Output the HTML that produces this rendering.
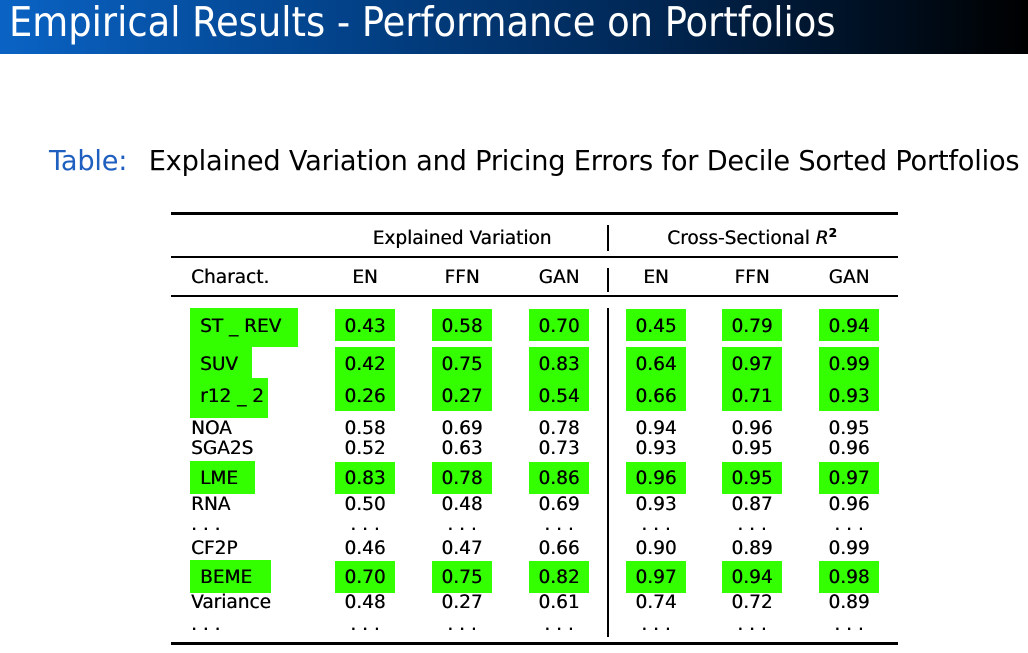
<!DOCTYPE html>
<html><head><meta charset="utf-8">
<style>
html,body{margin:0;padding:0;background:#fff;}
body{width:1028px;height:653px;position:relative;overflow:hidden;font-family:"DejaVu Sans","Liberation Sans",sans-serif;color:#000;}
#bar{position:absolute;left:0;top:0;width:1028px;height:54px;background:linear-gradient(90deg,#0a63c4 0%,#03458f 30%,#012a5a 60%,#000 100%);}
#title{position:absolute;left:9px;top:-2px;font-family:"DejaVu Sans Condensed","DejaVu Sans","Liberation Sans",sans-serif;font-weight:normal;font-size:41px;color:#fff;white-space:nowrap;}
#cap{position:absolute;left:49px;top:146px;font-size:27.2px;white-space:nowrap;font-family:"DejaVu Sans","Liberation Sans",sans-serif;letter-spacing:-0.2px;}
#cap span{color:#1f5fbf;display:inline-block;margin-right:13px;}
.rule{position:absolute;background:#000;}
.g{position:absolute;background:#33ff00;}
.t{position:absolute;font-size:18.5px;white-space:nowrap;line-height:20px;text-shadow:0.35px 0 0 #000;}
.c{transform:translateX(-50%);}
</style></head><body>
<div id="bar"><div id="title">Empirical Results - Performance on Portfolios</div></div>
<div id="cap"><span>Table:</span> Explained Variation and Pricing Errors for Decile Sorted Portfolios</div>
<div id="tbl"></div>
<script>
const labels=["ST _ REV","SUV","r12 _ 2","NOA","SGA2S","LME","RNA","...","CF2P","BEME","Variance","..."];
const enEV=["0.43","0.42","0.26","0.58","0.52","0.83","0.50","...","0.46","0.70","0.48","..."];
const ffnEV=["0.58","0.75","0.27","0.69","0.63","0.78","0.48","...","0.47","0.75","0.27","..."];
const ganEV=["0.70","0.83","0.54","0.78","0.73","0.86","0.69","...","0.66","0.82","0.61","..."];
const enR2=["0.45","0.64","0.66","0.94","0.93","0.96","0.93","...","0.90","0.97","0.74","..."];
const ffnR2=["0.79","0.97","0.71","0.96","0.95","0.95","0.87","...","0.89","0.94","0.72","..."];
const ganR2=["0.94","0.99","0.93","0.95","0.96","0.97","0.96","...","0.99","0.98","0.89","..."];
const highlighted=[true,true,true,false,false,true,false,false,false,true,false,false];

const T=document.getElementById('tbl');
const rowY=[327,365,397,429,449,479,505,525,549,578,603,625];
const colX=[365,462,559,656,752,849];
const cols=[enEV,ffnEV,ganEV,enR2,ffnR2,ganR2];
const colNames=["en-ev","ffn-ev","gan-ev","en-r2","ffn-r2","gan-r2"];
function add(cls,style,txt){const d=document.createElement('div');d.className=cls;d.style.cssText=style;if(txt!==undefined)d.textContent=txt;T.appendChild(d);return d;}
let r;
r=add('rule','left:171px;top:212px;width:727px;height:3px');


r=add('rule','left:171px;top:256px;width:727px;height:2px');


r=add('rule','left:171px;top:295px;width:727px;height:2px');


r=add('rule','left:171px;top:642px;width:727px;height:3px');


[[225,26],[268,24],[308,329]].forEach(v=>{
  const s=add('rule','left:607px;top:'+v[0]+'px;width:1.5px;height:'+v[1]+'px');
  
  
});
function g(x,y,w,h,n){const e=add('g','left:'+x+'px;top:'+y+'px;width:'+w+'px;height:'+h+'px');

}
g(190,308,108,39,'highlight-st-rev');g(190,347,62,32,'highlight-suv');g(190,378,78,40,'highlight-r12-2');
g(190,461,65,33,'highlight-lme');g(190,560,81,33,'highlight-beme');
const boxL=[335,432,529,626,722,819];
boxL.forEach(x=>{
  g(x,309,60,32,'highlight-cell');g(x,347,60,64,'highlight-cell');g(x,462,60,32,'highlight-cell');g(x,561,60,32,'highlight-cell');
});
let h;
h=add('t c','left:462px;top:229px;','Explained Variation');


h=add('t c','left:752px;top:229px;','');
h.innerHTML='Cross-Sectional <i>R</i><sup style="font-size:12px;font-weight:bold;line-height:0">2</sup>';


h=add('t','left:191px;top:268px;','Charact.');


const hn=["EN","FFN","GAN","EN","FFN","GAN"];
hn.forEach((n,i)=>{const e=add('t c','left:'+colX[i]+'px;top:268px;',n);

});
labels.forEach((lab,i)=>{
  const y=rowY[i]-10;
  const lx=highlighted[i]?200:191;
  const l=add('t','left:'+lx+'px;top:'+y+'px;',lab==="..."?". . .":lab);
  
  
  cols.forEach((arr,j)=>{
    const v=arr[i];
    const c=add('t c','left:'+colX[j]+'px;top:'+y+'px;',v==="..."?". . .":v);
    
    
  });
});
</script>
</body></html>
